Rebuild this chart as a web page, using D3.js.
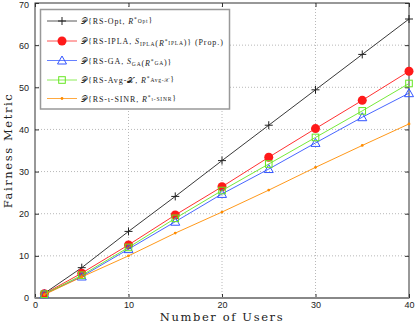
<html lang="en">
<head>
<meta charset="utf-8">
<title>Fairness Metric vs Number of Users</title>
<script src="https://d3js.org/d3.v7.min.js"></script>
<style>
  body { margin: 0; background: #fff; }
  .tick text { font-family: "Liberation Sans", Arial, sans-serif; font-size: 9px; fill: #222; }
  .grid line { stroke: #b8b8b8; stroke-dasharray: 1,2; }
  .axlabel { font-family: "DejaVu Serif", "Liberation Serif", serif; font-size: 11.5px; letter-spacing: 1.6px; fill: #222; }
  .legtext { font-family: "Liberation Serif", "DejaVu Serif", serif; font-size: 8px; letter-spacing: 0.9px; fill: #222; }
</style>
</head>
<body>
<svg id="chart"></svg>
<script>
// data
var users = [1, 5, 10, 15, 20, 25, 30, 35, 40];
var opt   = [1.1, 7.2, 15.8, 24.1, 32.6, 41.0, 49.4, 57.8, 66.2];
var ipla  = [1.0, 5.9, 12.6, 19.7, 26.4, 33.4, 40.2, 46.9, 53.8];
var ga    = [0.9, 5.1, 11.6, 18.1, 24.7, 30.6, 36.8, 42.9, 48.6];
var avg   = [0.9, 5.4, 12.0, 18.9, 25.5, 31.8, 38.1, 44.4, 50.9];
var sinr  = [0.8, 5.0, 10.0, 15.4, 20.4, 25.6, 31.0, 36.2, 41.3];

var xTicks = [0, 10, 20, 30, 40];
var yTicks = [0, 10, 20, 30, 40, 50, 60, 70];

// legend labels as pieces: [text, kind] with kind n / i / sub / sup
var legendLabels = [
  [["\u{1D4AB}{RS-Opt, ", "n"], ["R", "i"], ["*", "sup"], ["Opt", "sub"], ["}", "n"]],
  [["\u{1D4AB}{RS-IPLA, ", "n"], ["S", "i"], ["IPLA", "sub"], ["(", "n"], ["R", "i"], ["*", "sup"], ["IPLA", "sub"], [")} (Prop.)", "n"]],
  [["\u{1D4AB}{RS-GA, ", "n"], ["S", "i"], ["GA", "sub"], ["(", "n"], ["R", "i"], ["*", "sup"], ["GA", "sub"], [")}", "n"]],
  [["\u{1D4AB}{RS-Avg-\u{1D4B3}, ", "n"], ["R", "i"], ["*", "sup"], ["Avg-\u{1D4B3}", "sub"], ["}", "n"]],
  [["\u{1D4AB}{RS-\u03B9-SINR, ", "n"], ["R", "i"], ["*", "sup"], ["\u03B9-SINR", "sub"], ["}", "n"]]
];

var series = [
  { values: opt,  color: "#222222", marker: "plus" },
  { values: ipla, color: "#ff1a1a", marker: "circle" },
  { values: ga,   color: "#3355ff", marker: "triangle" },
  { values: avg,  color: "#66e622", marker: "square" },
  { values: sinr, color: "#ff8c00", marker: "dot" }
];

var config = { w: 415, h: 323 };
var plot = { left: 35, right: 409, top: 3, bottom: 298 };

var svg = d3.select("#chart").attr("width", config.w).attr("height", config.h);

var x = d3.scaleLinear().domain([0, 40]).range([plot.left, plot.right]);
var y = d3.scaleLinear().domain([0, 70]).range([plot.bottom, plot.top]);

// dotted grid
var grid = svg.append("g").attr("class", "grid");
grid.selectAll(".gx").data(xTicks.slice(1, -1)).enter().append("line")
  .attr("x1", x).attr("x2", x).attr("y1", plot.top).attr("y2", plot.bottom);
grid.selectAll(".gy").data(yTicks.slice(1, -1)).enter().append("line")
  .attr("x1", plot.left).attr("x2", plot.right).attr("y1", y).attr("y2", y);

// axes with inward ticks
var xAxis = d3.axisBottom(x).tickValues(xTicks).tickSizeInner(-4).tickSizeOuter(0).tickPadding(4);
var yAxis = d3.axisLeft(y).tickValues(yTicks).tickSizeInner(-4).tickSizeOuter(0).tickPadding(6);

svg.append("g").attr("transform", "translate(0," + plot.bottom + ")").call(xAxis)
  .call(function(g) { g.select(".domain").remove(); g.selectAll("line").attr("stroke", "#333"); });
svg.append("g").attr("transform", "translate(" + plot.left + ",0)").call(yAxis)
  .call(function(g) {
    g.select(".domain").remove();
    g.selectAll("line").attr("stroke", "#333");
    // keep the top label inside the picture
    g.selectAll(".tick text").filter(function(d) { return d === 70; }).attr("dy", "0.55em");
  });

// mirrored ticks on top and right
svg.append("g").attr("transform", "translate(0," + plot.top + ")")
  .call(d3.axisTop(x).tickValues(xTicks).tickSizeInner(-4).tickSizeOuter(0).tickFormat(""))
  .call(function(g) { g.select(".domain").remove(); g.selectAll("line").attr("stroke", "#333"); });
svg.append("g").attr("transform", "translate(" + plot.right + ",0)")
  .call(d3.axisRight(y).tickValues(yTicks).tickSizeInner(-4).tickSizeOuter(0).tickFormat(""))
  .call(function(g) { g.select(".domain").remove(); g.selectAll("line").attr("stroke", "#333"); });

// frame
svg.append("rect")
  .attr("x", plot.left).attr("y", plot.top)
  .attr("width", plot.right - plot.left).attr("height", plot.bottom - plot.top)
  .attr("fill", "none").attr("stroke", "#333").attr("stroke-width", 1);
svg.append("line")
  .attr("x1", plot.left).attr("x2", plot.right).attr("y1", plot.bottom).attr("y2", plot.bottom)
  .attr("stroke", "#888").attr("stroke-width", 2);

// marker drawing
function drawMarker(g, kind, color, cx, cy) {
  if (kind === "plus") {
    g.append("path").attr("d", "M" + (cx - 4) + "," + cy + "H" + (cx + 4) + "M" + cx + "," + (cy - 4) + "V" + (cy + 4))
      .attr("stroke", color).attr("stroke-width", 1).attr("fill", "none");
  } else if (kind === "circle") {
    g.append("circle").attr("cx", cx).attr("cy", cy).attr("r", 4.5).attr("fill", color);
  } else if (kind === "triangle") {
    g.append("path").attr("d", "M" + cx + "," + (cy - 4.5) + "L" + (cx + 4.5) + "," + (cy + 3.5) + "L" + (cx - 4.5) + "," + (cy + 3.5) + "Z")
      .attr("stroke", color).attr("stroke-width", 1).attr("fill", "none");
  } else if (kind === "square") {
    g.append("rect").attr("x", cx - 3.3).attr("y", cy - 3.3).attr("width", 6.6).attr("height", 6.6)
      .attr("stroke", color).attr("stroke-width", 1).attr("fill", "none");
  } else {
    g.append("circle").attr("cx", cx).attr("cy", cy).attr("r", 1.4).attr("fill", color);
  }
}

var line = d3.line().x(function(d) { return x(d[0]); }).y(function(d) { return y(d[1]); });

series.forEach(function(s) {
  var pts = users.map(function(u, i) { return [u, s.values[i]]; });
  var g = svg.append("g");
  g.append("path").attr("d", line(pts)).attr("fill", "none")
    .attr("stroke", s.color).attr("stroke-width", 0.9);
  pts.forEach(function(p) { drawMarker(g, s.marker, s.color, x(p[0]), y(p[1])); });
});

// legend
var leg = svg.append("g");
leg.append("rect").attr("x", 40.5).attr("y", 9.5).attr("width", 189).attr("height", 99.5)
  .attr("fill", "#fff").attr("stroke", "#999").attr("stroke-width", 1.5);
var legY = [21, 41, 60.5, 80, 98.5];
series.forEach(function(s, i) {
  var ly = legY[i];
  leg.append("line").attr("x1", 47).attr("x2", 77).attr("y1", ly).attr("y2", ly)
    .attr("stroke", s.color).attr("stroke-width", 1).attr("stroke-opacity", 0.75);
  drawMarker(leg, s.marker, s.color, 62, ly);
  var t = leg.append("text").attr("class", "legtext").attr("x", 81).attr("y", ly + 3);
  legendLabels[i].forEach(function(piece) {
    var ts = t.append("tspan").text(piece[0]);
    if (piece[1] === "sub") {
      ts.attr("font-size", "5.5px").attr("dy", 2).attr("letter-spacing", "0.8px");
      t.append("tspan").attr("dy", -2).text("");
    } else if (piece[1] === "sup") {
      ts.attr("font-size", "5.5px").attr("dy", -3).attr("dx", 0);
      t.append("tspan").attr("dy", 3).attr("dx", -3).text("");
    } else if (piece[1] === "i") {
      ts.attr("font-style", "italic");
    }
  });
});

// axis titles
svg.append("text").attr("class", "axlabel").attr("x", (plot.left + plot.right) / 2).attr("y", 321)
  .attr("text-anchor", "middle").text("Number of Users");
svg.append("text").attr("class", "axlabel")
  .attr("transform", "translate(12," + ((plot.top + plot.bottom) / 2) + ") rotate(-90)")
  .attr("text-anchor", "middle").text("Fairness Metric");
</script>
</body>
</html>
